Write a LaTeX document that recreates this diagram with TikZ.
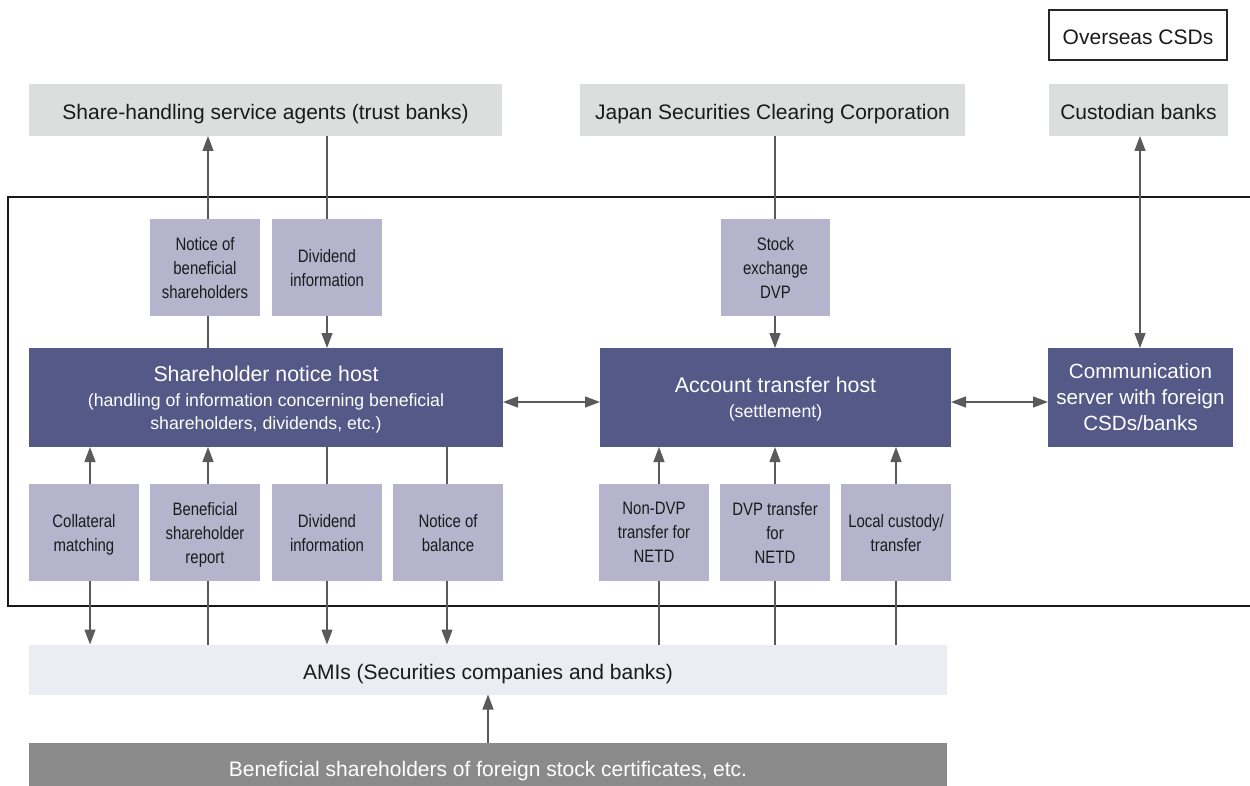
\documentclass[tikz,border=0pt]{standalone}
\usepackage{fontspec}
\setmainfont{Liberation Sans}
\newfontfamily\narrowfont[FakeStretch=0.83]{Liberation Sans}
\usetikzlibrary{arrows.meta}

\definecolor{linegray}{HTML}{5A5A5A}
\definecolor{textblack}{HTML}{1A1A1A}
\definecolor{partygray}{HTML}{DCDEDD}
\definecolor{hostblue}{HTML}{545987}
\definecolor{itemlilac}{HTML}{B6B4CD}
\definecolor{amifill}{HTML}{ECEDF2}
\definecolor{holderfill}{HTML}{8A8A8A}

\tikzset{
  box/.style={inner sep=0pt, outer sep=0pt, align=center, text=textblack},
  bigtext/.style={font=\fontsize{21}{25}\selectfont, text height=20pt, text depth=0pt},
  party/.style={box, bigtext, fill=partygray, minimum height=52pt},
  hostbox/.style={box, fill=hostblue, text=white, minimum height=99pt, text depth=-1pt,
    font=\fontsize{17.7}{23}\selectfont},
  itembox/.style={box, fill=itemlilac, minimum width=110pt, minimum height=97pt, text depth=-2pt,
    font=\narrowfont\fontsize{18}{24}\selectfont},
  conn/.style={draw=linegray, line width=1.3pt},
  arr/.style={conn, -{Triangle[width=11pt,length=15pt]}},
  darr/.style={conn, {Triangle[width=11pt,length=15pt]}-{Triangle[width=11pt,length=15pt]}},
  frame/.style={draw=black!90, line width=1.5pt}
}

\begin{document}
\begin{tikzpicture}[x=1pt,y=-1pt]
\clip (0,0) rectangle (1250,786);

% system boundary (runs off the right edge)
\draw[frame] (8,197) rectangle (1270,606);

% column positions of the connectors
\coordinate (c1) at (90,0);
\coordinate (c2) at (208,0);
\coordinate (c3) at (327,0);
\coordinate (c4) at (447,0);
\coordinate (c5) at (659,0);
\coordinate (c6) at (775,0);
\coordinate (c7) at (896,0);
\coordinate (cC) at (1140,0);
\coordinate (cB) at (488,0);
\coordinate (hrow) at (0,402);

% outside parties
\node[box, bigtext, draw=black!85, line width=1.1pt, fill=white, minimum width=178pt,
  minimum height=50pt] (ocsd) at (1138,35) {Overseas CSDs};
\node[party, minimum width=473pt] (agents) at (265.5,110) {Share-handling service agents (trust banks)};
\node[party, minimum width=385pt] (jscc) at (772.5,110) {Japan Securities Clearing Corporation};
\node[party, minimum width=179pt] (cust) at (1138.5,110) {Custodian banks};

% hosts
\node[hostbox, minimum width=474pt] (shost) at (266,397.5)
  {{\fontsize{21.3}{25}\selectfont Shareholder notice host}\\[2pt]
   (handling of information concerning beneficial\\
   shareholders, dividends, etc.)};
\node[hostbox, minimum width=351pt] (ahost) at (775.5,397.5)
  {{\fontsize{21.3}{25}\selectfont Account transfer host}\\[2pt]
   (settlement)};
\node[hostbox, minimum width=185pt, font=\fontsize{20.6}{26}\selectfont] (comm) at (1140.5,397.5)
  {Communication\\server with foreign\\CSDs/banks};

% upper items
\node[itembox] (nob) at (205,267.5) {Notice of\\beneficial\\shareholders};
\node[itembox] (divu) at (327,267.5) {Dividend\\information};
\node[itembox, minimum width=109pt] (sdvp) at (775.5,267.5) {Stock\\exchange\\DVP};

% lower items
\node[itembox] (coll) at (84,532.5) {Collateral\\matching};
\node[itembox] (bsr) at (205,532.5) {Beneficial\\shareholder\\report};
\node[itembox] (divl) at (327,532.5) {Dividend\\information};
\node[itembox] (nbal) at (448,532.5) {Notice of\\balance};
\node[itembox] (ndvp) at (654,532.5) {Non-DVP\\transfer for\\NETD};
\node[itembox] (dvp) at (775,532.5) {DVP transfer\\for\\NETD};
\node[itembox] (loc) at (896,532.5) {Local custody/\\transfer};

% participants
\node[box, bigtext, fill=amifill, minimum width=918pt, minimum height=50pt] (ami) at (488,669.5)
  {AMIs (Securities companies and banks)};
\node[box, bigtext, fill=holderfill, text=white, minimum width=918pt, minimum height=46pt] (holders)
  at (488,766) {Beneficial shareholders of foreign stock certificates, etc.};

% upper connectors
\draw[conn] (shost.north -| c2) -- (nob.south -| c2);
\draw[arr] (nob.north -| c2) -- (agents.south -| c2);
\draw[conn] (agents.south -| c3) -- (divu.north -| c3);
\draw[arr] (divu.south -| c3) -- (shost.north -| c3);
\draw[conn] (jscc.south -| c6) -- (sdvp.north -| c6);
\draw[arr] (sdvp.south -| c6) -- (ahost.north -| c6);
\draw[darr] (cust.south -| cC) -- (comm.north -| cC);

% links between hosts
\draw[darr] (shost.east |- hrow) -- (ahost.west |- hrow);
\draw[darr] (ahost.east |- hrow) -- (comm.west |- hrow);

% lower connectors
\draw[arr] (coll.north -| c1) -- (shost.south -| c1);
\draw[arr] (coll.south -| c1) -- (ami.north -| c1);
\draw[arr] (bsr.north -| c2) -- (shost.south -| c2);
\draw[conn] (ami.north -| c2) -- (bsr.south -| c2);
\draw[conn] (shost.south -| c3) -- (divl.north -| c3);
\draw[arr] (divl.south -| c3) -- (ami.north -| c3);
\draw[conn] (shost.south -| c4) -- (nbal.north -| c4);
\draw[arr] (nbal.south -| c4) -- (ami.north -| c4);
\draw[arr] (ndvp.north -| c5) -- (ahost.south -| c5);
\draw[conn] (ami.north -| c5) -- (ndvp.south -| c5);
\draw[arr] (dvp.north -| c6) -- (ahost.south -| c6);
\draw[conn] (ami.north -| c6) -- (dvp.south -| c6);
\draw[arr] (loc.north -| c7) -- (ahost.south -| c7);
\draw[conn] (ami.north -| c7) -- (loc.south -| c7);
\draw[arr] (holders.north -| cB) -- (ami.south -| cB);
\end{tikzpicture}
\end{document}
